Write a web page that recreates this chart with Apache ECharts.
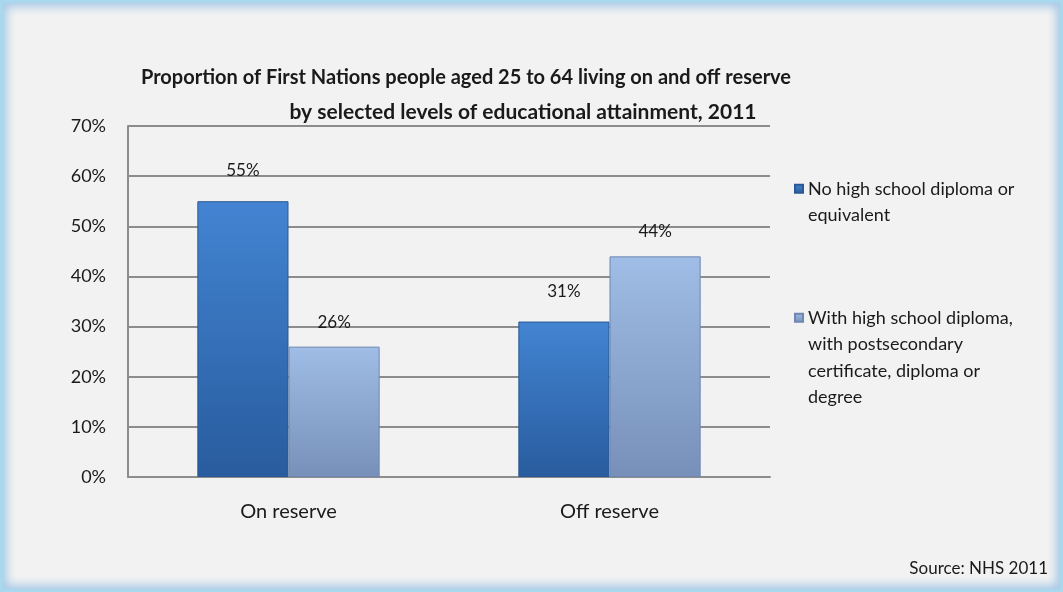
<!DOCTYPE html>
<html>
<head>
<meta charset="utf-8">
<script src="https://cdn.jsdelivr.net/npm/echarts@6/dist/echarts.min.js"></script>
<style>
    html, body { margin: 0; padding: 0; background: #ffffff; }
    .frame {
        position: absolute; left: 0; top: 0;
        width: 1063px; height: 592px;
        box-sizing: border-box;
        border: 3px solid #a9d8ee;
        box-shadow: inset 0 0 10px 4px #a7c9e6;
        background: #f2f2f2;
    }
    #chart { position: absolute; left: 0; top: 0; width: 1063px; height: 592px; }
</style>
</head>
<body>
<div class="frame"></div>
<div id="chart"></div>
<script>
// data
const categories = ['On reserve', 'Off reserve'];
const seriesNames = [
    'No high school diploma or\nequivalent',
    'With high school diploma,\nwith postsecondary\ncertificate, diploma or\ndegree'
];
const noDiploma = [55, 31];
const withDiploma = [26, 44];
const yTicks = [0, 10, 20, 30, 40, 50, 60, 70];
const titleLines = [
    'Proportion of First Nations people aged 25 to 64 living on and off reserve',
    'by selected levels of educational attainment, 2011'
];

const chart = echarts.init(document.getElementById('chart'), null, { renderer: 'canvas' });

const font = 'Lato, "Open Sans", sans-serif';

const barGradient = (top, bottom) => new echarts.graphic.LinearGradient(0, 0, 0, 1, [
    { offset: 0, color: top },
    { offset: 1, color: bottom }
]);

// legend text is centred on its icon; pad with blank lines so the icon sits on the first line
const padLegend = name => {
    const n = name.split('\n').length;
    return '\n'.repeat(n - 1) + name;
};

const legendBase = {
    orient: 'vertical',
    left: 789,
    itemWidth: 8,
    itemHeight: 8,
    icon: 'rect',
    formatter: padLegend,
    textStyle: { fontSize: 18, color: '#1a1a1a', lineHeight: 26.5, fontFamily: font }
};

const option = {
    backgroundColor: 'transparent',
    textStyle: { fontFamily: font },
    title: [
        {
            text: titleLines[0],
            left: 466,
            top: 62,
            textAlign: 'center',
            padding: 0,
            textStyle: { fontSize: 20, fontWeight: 'bold', color: '#1a1a1a', lineHeight: 32, fontFamily: font }
        },
        {
            text: titleLines[1],
            left: 523,
            top: 96,
            textAlign: 'center',
            padding: 0,
            textStyle: { fontSize: 21, fontWeight: 'bold', color: '#1a1a1a', lineHeight: 32, fontFamily: font }
        }
    ],
    legend: [
        Object.assign({}, legendBase, { data: [seriesNames[0]], top: 144 }),
        Object.assign({}, legendBase, { data: [seriesNames[1]], top: 220 })
    ],
    grid: { left: 128, right: 293, top: 126, bottom: 115 },
    xAxis: {
        type: 'category',
        data: categories,
        axisLine: { show: true, lineStyle: { color: '#8c8c8c', width: 2 } },
        axisTick: { show: false },
        axisLabel: { fontSize: 20, color: '#1a1a1a', margin: 25, fontFamily: font }
    },
    yAxis: {
        type: 'value',
        min: 0,
        max: 70,
        interval: 10,
        axisLine: { show: true, lineStyle: { color: '#8c8c8c', width: 2 } },
        axisTick: { show: false },
        axisLabel: {
            fontSize: 18, color: '#1a1a1a', margin: 22, fontFamily: font,
            formatter: v => yTicks.includes(v) ? v + '%' : ''
        },
        splitLine: { lineStyle: { color: '#8c8c8c', width: 2 } }
    },
    series: [
        {
            name: seriesNames[0],
            type: 'bar',
            data: noDiploma,
            barWidth: '28.4%',
            barGap: '0%',
            itemStyle: {
                color: barGradient('#4384d2', '#285c9e'),
                borderColor: '#2a5894',
                borderWidth: 1
            },
            label: {
                show: true, position: 'top', distance: 22,
                formatter: '{c}%', fontSize: 17, color: '#1a1a1a', fontFamily: font
            }
        },
        {
            name: seriesNames[1],
            type: 'bar',
            data: withDiploma,
            barWidth: '28.4%',
            itemStyle: {
                color: barGradient('#9fbde6', '#7790b9'),
                borderColor: '#6f87b0',
                borderWidth: 1
            },
            label: {
                show: true, position: 'top', distance: 16,
                formatter: '{c}%', fontSize: 17, color: '#1a1a1a', fontFamily: font
            }
        }
    ],
    graphic: [
        {
            type: 'text',
            right: 15,
            top: 560,
            style: { text: 'Source: NHS 2011', fontSize: 17, fill: '#1a1a1a', fontFamily: font }
        }
    ]
};

chart.setOption(option);
</script>
</body>
</html>
